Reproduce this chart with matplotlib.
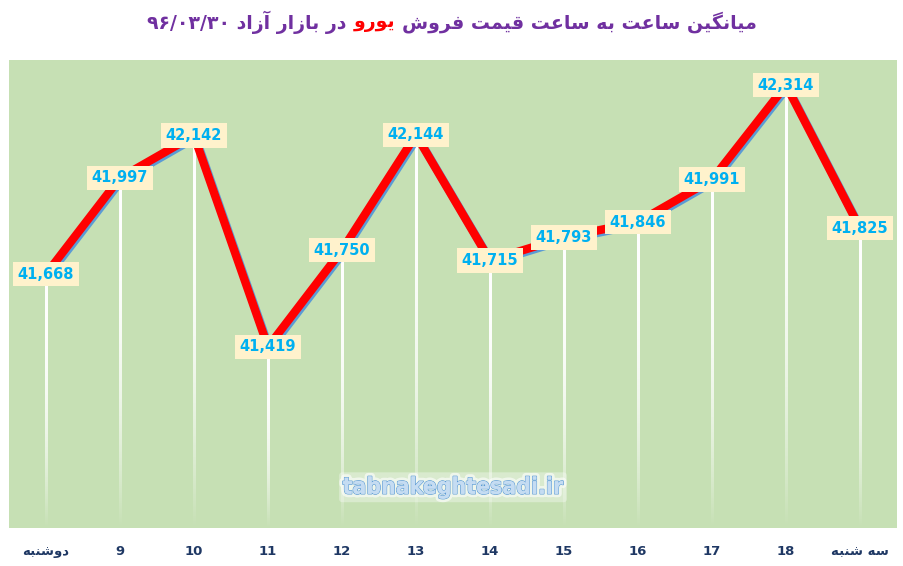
import matplotlib
matplotlib.use("Agg")
import matplotlib.pyplot as plt
import matplotlib.patheffects as pe
import numpy as np

# data
hours = ["دوشنبه", "9", "10", "11", "12", "13", "14", "15", "16", "17", "18", "سه شنبه"]
prices = [41668, 41997, 42142, 41419, 41750, 42144, 41715, 41793, 41846, 41991, 42314, 41825]
title_parts = ["میانگین ساعت به ساعت قیمت فروش ", "یورو", " در بازار آزاد ۹۶/۰۳/۳۰"]
title_colors = ["#7030A0", "#FF0000", "#7030A0"]
watermark = "tabnakeghtesadi.ir"

# minimal persian shaping (matplotlib has no complex text layout)
FORMS = {
    "ا": ("\uFE8D", "\uFE8E", None, None), "آ": ("\uFE81", "\uFE82", None, None),
    "د": ("\uFEA9", "\uFEAA", None, None), "ر": ("\uFEAD", "\uFEAE", None, None),
    "ز": ("\uFEAF", "\uFEB0", None, None), "و": ("\uFEED", "\uFEEE", None, None),
    "ب": ("\uFE8F", "\uFE90", "\uFE91", "\uFE92"), "ت": ("\uFE95", "\uFE96", "\uFE97", "\uFE98"),
    "س": ("\uFEB1", "\uFEB2", "\uFEB3", "\uFEB4"), "ش": ("\uFEB5", "\uFEB6", "\uFEB7", "\uFEB8"),
    "ع": ("\uFEC9", "\uFECA", "\uFECB", "\uFECC"), "ف": ("\uFED1", "\uFED2", "\uFED3", "\uFED4"),
    "ق": ("\uFED5", "\uFED6", "\uFED7", "\uFED8"), "م": ("\uFEE1", "\uFEE2", "\uFEE3", "\uFEE4"),
    "ن": ("\uFEE5", "\uFEE6", "\uFEE7", "\uFEE8"), "ه": ("\uFEE9", "\uFEEA", "\uFEEB", "\uFEEC"),
    "ی": ("\uFBFC", "\uFBFD", "\uFBFE", "\uFBFF"), "گ": ("\uFB92", "\uFB93", "\uFB94", "\uFB95"),
}


def shape_word(w):
    out = []
    for i, c in enumerate(w):
        if c not in FORMS:
            out.append(c)
            continue
        f = FORMS[c]
        prev = w[i - 1] if i > 0 else None
        nxt = w[i + 1] if i < len(w) - 1 else None
        join_prev = prev in FORMS and FORMS[prev][2] is not None
        join_next = nxt in FORMS and f[2] is not None
        if join_prev and join_next:
            out.append(f[3])
        elif join_prev:
            out.append(f[1])
        elif join_next:
            out.append(f[2])
        else:
            out.append(f[0])
    return out


def fa(s):
    # shape then lay out right-to-left, keeping digit runs left-to-right
    tokens = []
    for word in s.split(" "):
        if any(c in FORMS for c in word):
            tokens.append("".join(reversed(shape_word(word))))
        else:
            tokens.append(word)
    return " ".join(reversed(tokens))


fig = plt.figure(figsize=(9.04, 5.66), dpi=100)
ax = fig.add_axes([9 / 904, 1 - 528 / 566, 888 / 904, 468 / 566])
ax.set_facecolor("#C6E0B4")
xlim = (-0.5, len(hours) - 0.5)
ylim = (40800, 42400)
for s in ax.spines.values():
    s.set_visible(False)
ax.set_yticks([])
x = np.arange(len(hours))

# fading white drop lines (vertical gradient strips)
half_w = 1.1 / (888 / len(hours))
for xi, yi in zip(x, prices):
    n = 200
    t = np.linspace(0, 1, n)[:, None]  # 0 at top (point), 1 at bottom
    grad = np.ones((n, 1, 4))
    grad[..., 3] = np.clip(1.0 - t ** 2.5, 0, 1)
    ax.imshow(grad, extent=(xi - half_w, xi + half_w, ylim[0], yi), aspect="auto",
              interpolation="bilinear", zorder=2)

ax.plot(x, prices, color="#FF0000", lw=6, solid_capstyle="butt", solid_joinstyle="miter", zorder=3,
        path_effects=[pe.SimpleLineShadow(offset=(1.2, -1.5), shadow_color="#5B9BD5", alpha=1),
                      pe.Normal()])

for xi, yi in zip(x, prices):
    ax.text(xi, yi, f"{yi:,}", ha="center", va="center", fontsize=10.5, fontweight="bold",
            color="#00B0F0", zorder=5,
            bbox=dict(boxstyle="square,pad=0.32", fc="#FFF2CC", ec="none"))

ax.set_xlim(xlim)
ax.set_ylim(ylim)
ax.set_xticks(x)
ax.set_xticklabels([fa(h) for h in hours], fontsize=9.5, fontweight="bold", color="#1F3864")
ax.tick_params(axis="x", length=0, pad=12)

ax.text(0.5, 0.087, watermark, transform=ax.transAxes, ha="center", va="center",
        fontsize=16.5, fontweight="bold", fontstretch="condensed", color="#C5DCF2", zorder=6,
        bbox=dict(boxstyle="round,pad=0.15", fc=(1, 1, 1, 0.35), ec="none"),
        path_effects=[pe.withStroke(linewidth=5, foreground=(1, 1, 1, 0.6)),
                      pe.withStroke(linewidth=1.0, foreground="#5B9BD5"),
                      pe.Normal()])

# multi-colour title, laid out right to left
fig.canvas.draw()
renderer = fig.canvas.get_renderer()
tsize = 13.6
pieces = []
for part, col in zip(title_parts, title_colors):
    t = fig.text(0, 0, fa(part.strip()), fontsize=tsize, fontweight="bold", color=col)
    pieces.append(t)
a1 = fig.text(0, 0, "a a", fontsize=tsize, fontweight="bold")
a2 = fig.text(0, 0, "aa", fontsize=tsize, fontweight="bold")
sw = a1.get_window_extent(renderer).width - a2.get_window_extent(renderer).width
a1.remove()
a2.remove()
widths = [p.get_window_extent(renderer).width for p in pieces]
total = sum(widths) + sw * (len(pieces) - 1)
right = 452 + total / 2
ty = 1 - 22 / 566
for p, w in zip(pieces, widths):
    p.set_position(((right - w) / 904, ty))
    p.set_va("center")
    right -= w + sw

fig.savefig("out.png", dpi=100)
